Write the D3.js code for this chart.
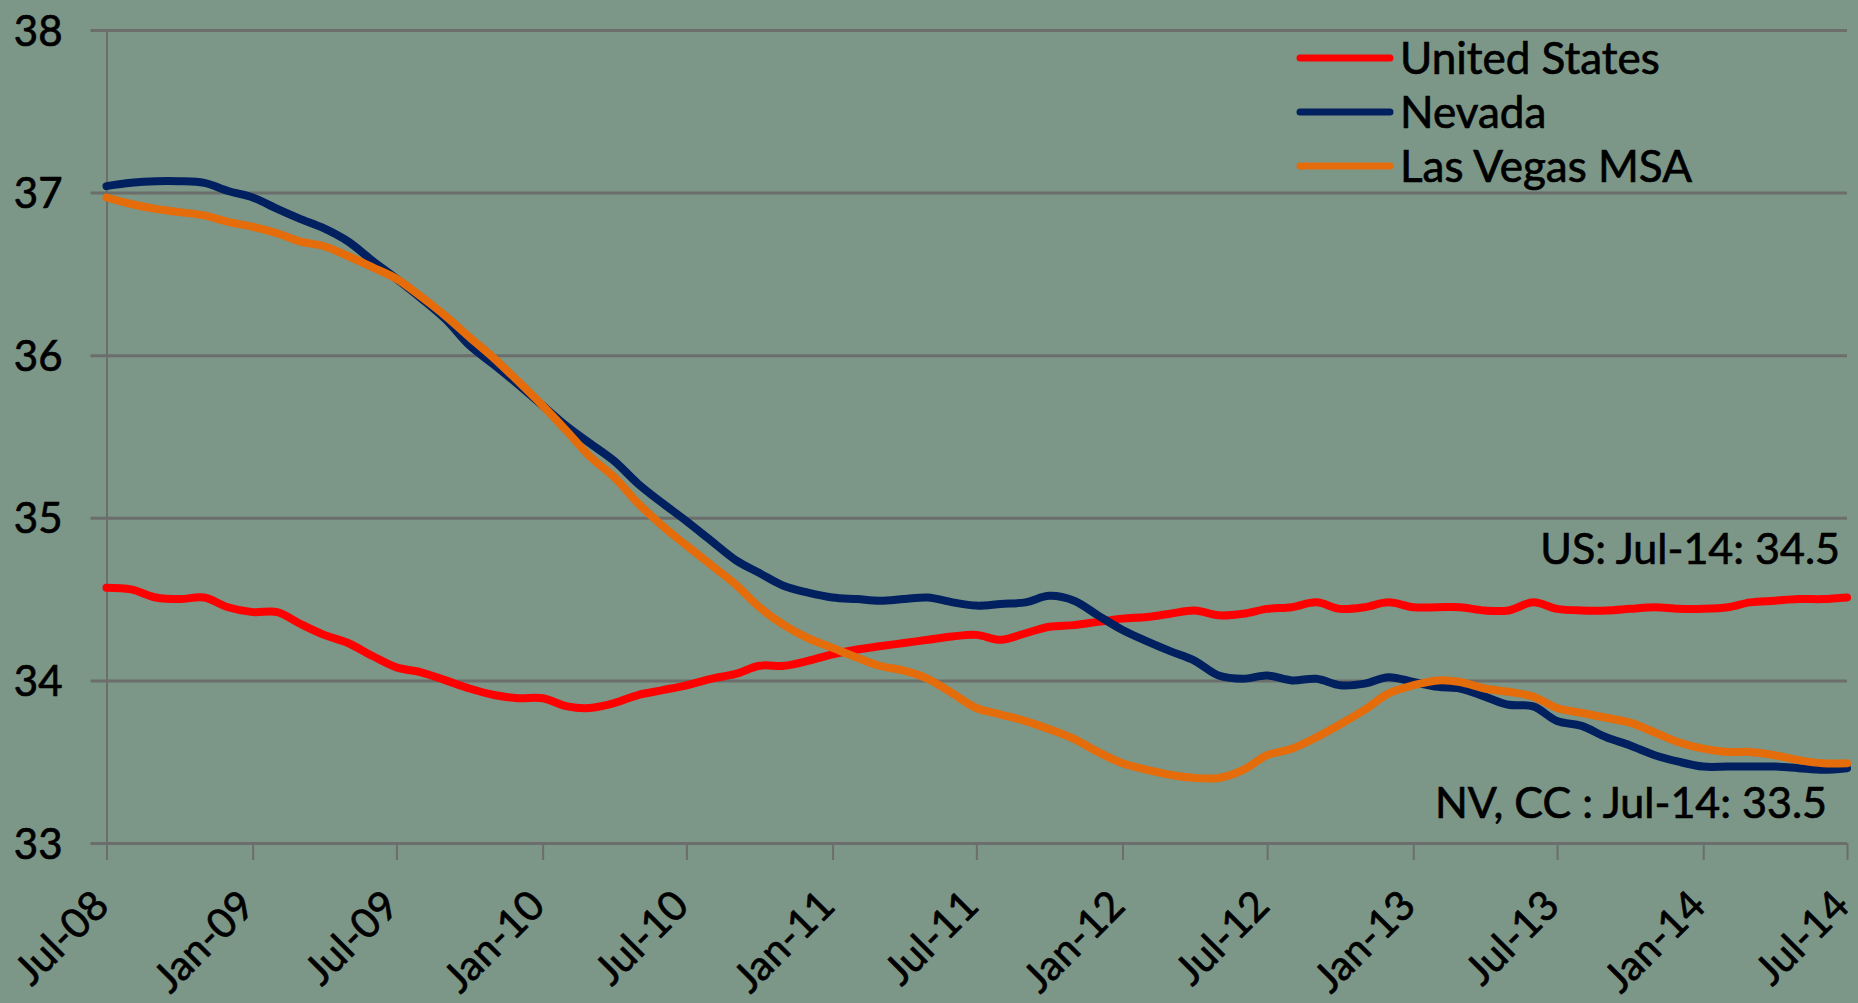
<!DOCTYPE html>
<html>
<head>
<meta charset="utf-8">
<script src="https://cdn.jsdelivr.net/npm/d3@7.9.0/dist/d3.min.js"></script>
<style>
  html, body { margin: 0; padding: 0; background: #7c9687; }
  svg { display: block; font-family: Lato, "Open Sans", sans-serif; }
  svg text { fill: #000; stroke: #000; stroke-width: 0.7px; }
</style>
</head>
<body>
<svg id="chart" width="1858" height="1003"></svg>
<script>
// monthly values, Jul-08 .. Jul-14
const usValues = [
  34.57, 34.56, 34.51, 34.50, 34.51, 34.45, 34.42, 34.42, 34.35, 34.28,
  34.23, 34.15, 34.08, 34.05, 34.00, 33.95, 33.91, 33.89, 33.89, 33.84,
  33.83, 33.86, 33.91, 33.94, 33.97, 34.01, 34.04, 34.09, 34.09, 34.12,
  34.16, 34.19, 34.21, 34.23, 34.25, 34.27, 34.28, 34.25, 34.29, 34.33,
  34.34, 34.36, 34.38, 34.39, 34.41, 34.43, 34.40, 34.41, 34.44, 34.45,
  34.48, 34.44, 34.45, 34.48, 34.45, 34.45, 34.45, 34.43, 34.43, 34.48,
  34.44, 34.43, 34.43, 34.44, 34.45, 34.44, 34.44, 34.45, 34.48, 34.49,
  34.50, 34.50, 34.51
];
const nevadaValues = [
  37.04, 37.06, 37.07, 37.07, 37.06, 37.01, 36.97, 36.90, 36.84, 36.78,
  36.70, 36.58, 36.47, 36.35, 36.22, 36.06, 35.94, 35.82, 35.69, 35.56,
  35.46, 35.35, 35.21, 35.09, 34.98, 34.86, 34.74, 34.66, 34.58, 34.54,
  34.51, 34.50, 34.49, 34.50, 34.51, 34.48, 34.46, 34.47, 34.48, 34.52,
  34.49, 34.40, 34.31, 34.24, 34.18, 34.12, 34.03, 34.01, 34.03, 34.00,
  34.01, 33.97, 33.98, 34.02, 33.99, 33.96, 33.95, 33.90, 33.85, 33.84,
  33.75, 33.72, 33.65, 33.60, 33.54, 33.50, 33.47, 33.47, 33.47, 33.47,
  33.46, 33.45, 33.46
];
const lasVegasValues = [
  36.97, 36.93, 36.90, 36.88, 36.86, 36.82, 36.79, 36.75, 36.70, 36.67,
  36.61, 36.54, 36.47, 36.36, 36.24, 36.11, 35.98, 35.84, 35.69, 35.53,
  35.38, 35.25, 35.09, 34.95, 34.83, 34.71, 34.59, 34.45, 34.34, 34.26,
  34.20, 34.14, 34.09, 34.06, 34.01, 33.92, 33.83, 33.79, 33.75, 33.70,
  33.64, 33.56, 33.49, 33.45, 33.42, 33.40, 33.40, 33.45, 33.54, 33.58,
  33.65, 33.73, 33.82, 33.92, 33.97, 34.00, 33.99, 33.95, 33.93, 33.90,
  33.83, 33.80, 33.77, 33.74, 33.68, 33.62, 33.58, 33.56, 33.56, 33.54,
  33.51, 33.49, 33.49
];

const seriesNames = ["United States", "Nevada", "Las Vegas MSA"];
const seriesColors = ["#ff0000", "#002060", "#e46c0a"];
const yTicks = [33, 34, 35, 36, 37, 38];
const notes = ["US: Jul-14: 34.5", "NV, CC : Jul-14: 33.5"];

const months = d3.timeMonth.range(new Date(2008, 6, 1), new Date(2014, 7, 1));
const series = [usValues, nevadaValues, lasVegasValues].map((vals, k) => ({
  name: seriesNames[k],
  color: seriesColors[k],
  points: vals.map((v, i) => ({ date: months[i], value: v }))
}));

const W = 1858, H = 1003;
const plotL = 106.5, plotR = 1847, plotT = 30, plotB = 843;
const gridColor = "#6b6e6b";

const svg = d3.select("#chart");
svg.append("rect").attr("width", W).attr("height", H).attr("fill", "#7c9687");

const x = d3.scaleTime().domain(d3.extent(months)).range([plotL, plotR]);
const y = d3.scaleLinear().domain([33, 38]).range([plotB, plotT]);

// y axis + gridlines
const yAxis = svg.append("g")
  .attr("transform", `translate(${plotL},0)`)
  .call(d3.axisLeft(y).tickValues(yTicks).tickFormat(d3.format("d")).tickSizeOuter(0));
yAxis.select(".domain").attr("stroke", gridColor).attr("stroke-width", 2);
yAxis.selectAll(".tick line")
  .attr("x1", -16).attr("x2", plotR - plotL)
  .attr("stroke", gridColor).attr("stroke-width", 3);
yAxis.selectAll(".tick text")
  .attr("x", -44).attr("dy", "0.36em")
  .attr("font-size", 42).attr("font-family", "Lato");

// x axis
const xAxis = svg.append("g")
  .attr("transform", `translate(0,${plotB})`)
  .call(d3.axisBottom(x).ticks(d3.timeMonth.every(6)).tickFormat(d3.timeFormat("%b-%y")).tickSize(17).tickSizeOuter(0));
xAxis.select(".domain").remove();
xAxis.selectAll(".tick line").attr("stroke", gridColor).attr("stroke-width", 2);
xAxis.selectAll(".tick text")
  .attr("y", 0).attr("dy", 0)
  .attr("text-anchor", "end")
  .attr("transform", "translate(4,65) rotate(-45)")
  .attr("font-size", 41).attr("font-family", "Lato");

// lines
const line = d3.line()
  .x(d => x(d.date))
  .y(d => y(d.value))
  .curve(d3.curveCatmullRom.alpha(0.5));

svg.append("g").selectAll("path")
  .data(series)
  .join("path")
  .attr("d", d => line(d.points))
  .attr("fill", "none")
  .attr("stroke", d => d.color)
  .attr("stroke-width", 8)
  .attr("stroke-linecap", "round")
  .attr("stroke-linejoin", "round");

// legend
const legend = svg.append("g").selectAll("g")
  .data(series)
  .join("g")
  .attr("transform", (d, i) => `translate(1300,${58 + i * 54})`);
legend.append("line")
  .attr("x1", 0).attr("x2", 90)
  .attr("stroke", d => d.color).attr("stroke-width", 7).attr("stroke-linecap", "round");
legend.append("text")
  .attr("x", 100).attr("dy", "0.36em")
  .attr("font-size", 44)
  .text(d => d.name);

// end-value notes
svg.append("text")
  .attr("x", 1840).attr("y", 564).attr("text-anchor", "end")
  .attr("font-size", 43).text(notes[0]);
svg.append("text")
  .attr("x", 1827).attr("y", 818).attr("text-anchor", "end")
  .attr("font-size", 43).text(notes[1]);
</script>
</body>
</html>
